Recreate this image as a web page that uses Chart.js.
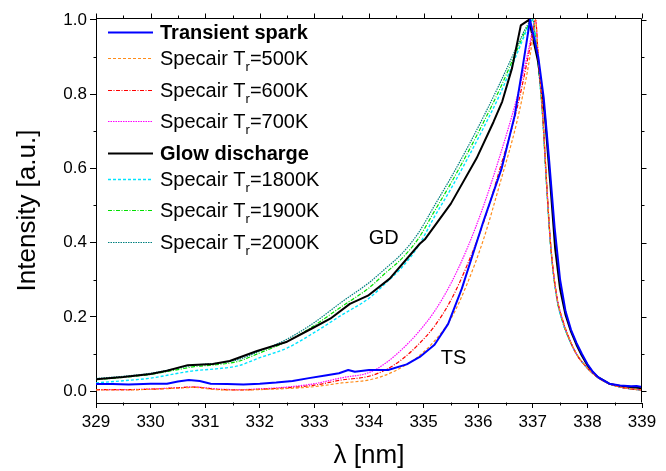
<!DOCTYPE html>
<html>
<head>
<meta charset="utf-8">
<script src="https://cdn.jsdelivr.net/npm/chart.js@4.4.1/dist/chart.umd.min.js"></script>
<style>
  html, body { margin: 0; padding: 0; background: #fff; }
  canvas { display: block; }
</style>
</head>
<body>
<canvas id="c" width="666" height="471"></canvas>
<script>
// Measured transient spark (TS) spectrum
const tsWl = [329.0, 329.3, 329.6, 330.0, 330.3, 330.5, 330.7, 330.9, 331.1, 331.4, 331.7, 332.0, 332.3, 332.6, 332.9, 333.2, 333.45, 333.62, 333.74, 334.0, 334.35, 334.69, 334.93, 335.2, 335.45, 335.7, 336.09, 336.43, 336.67, 336.82, 336.95, 337.1, 337.2, 337.3, 337.4, 337.5, 337.6, 337.7, 337.8, 337.9, 338.0, 338.1, 338.2, 338.4, 338.6, 338.8, 338.9, 339.0];
const tsInt = [0.019, 0.019, 0.018, 0.020, 0.020, 0.026, 0.030, 0.027, 0.020, 0.019, 0.018, 0.020, 0.023, 0.027, 0.035, 0.042, 0.048, 0.057, 0.052, 0.057, 0.057, 0.072, 0.092, 0.125, 0.181, 0.276, 0.455, 0.600, 0.743, 0.878, 1.000, 0.900, 0.790, 0.620, 0.440, 0.300, 0.215, 0.165, 0.130, 0.100, 0.073, 0.052, 0.037, 0.020, 0.015, 0.013, 0.014, 0.011];

// Measured glow discharge (GD) spectrum
const gdWl = [329.0, 329.5, 330.0, 330.3, 330.68, 331.14, 331.45, 331.95, 332.5, 332.97, 333.29, 333.65, 333.98, 334.38, 334.93, 335.03, 335.5, 335.97, 336.28, 336.44, 336.62, 336.78, 336.93, 337.1, 337.22, 337.32, 337.41, 337.5, 337.6, 337.7, 337.8, 337.9, 338.0, 338.1, 338.2, 338.4, 338.6, 338.8, 339.0];
const gdInt = [0.032, 0.038, 0.046, 0.055, 0.070, 0.073, 0.081, 0.108, 0.133, 0.170, 0.195, 0.235, 0.257, 0.303, 0.397, 0.410, 0.505, 0.627, 0.725, 0.780, 0.870, 0.985, 1.000, 0.885, 0.743, 0.560, 0.384, 0.275, 0.205, 0.160, 0.125, 0.095, 0.070, 0.050, 0.037, 0.020, 0.013, 0.011, 0.008];

// Specair simulations, common wavelength grid
const simWl = [329.0, 329.5, 330.0, 330.5, 330.8, 331.2, 331.6, 332.0, 332.5, 333.0, 333.5, 334.0, 334.3, 334.6, 334.9, 335.2, 335.5, 335.8, 336.1, 336.4, 336.7, 336.9, 337.0, 337.05, 337.1, 337.18, 337.25, 337.33, 337.44, 337.55, 337.65, 337.8, 338.0, 338.2, 338.4, 338.6, 338.8, 339.0];
const sim500 = [0.003, 0.003, 0.005, 0.008, 0.010, 0.004, 0.003, 0.004, 0.007, 0.012, 0.022, 0.030, 0.043, 0.064, 0.093, 0.135, 0.195, 0.290, 0.410, 0.560, 0.720, 0.860, 0.950, 1.000, 0.900, 0.750, 0.570, 0.390, 0.255, 0.190, 0.148, 0.100, 0.062, 0.036, 0.020, 0.011, 0.006, 0.003];
const sim600 = [0.004, 0.004, 0.005, 0.009, 0.011, 0.005, 0.003, 0.005, 0.009, 0.016, 0.030, 0.040, 0.057, 0.085, 0.125, 0.175, 0.245, 0.340, 0.455, 0.600, 0.755, 0.890, 0.965, 1.000, 0.900, 0.750, 0.570, 0.390, 0.255, 0.190, 0.148, 0.100, 0.062, 0.036, 0.020, 0.011, 0.006, 0.003];
const sim700 = [0.004, 0.004, 0.006, 0.009, 0.011, 0.006, 0.004, 0.006, 0.011, 0.020, 0.036, 0.050, 0.075, 0.112, 0.158, 0.215, 0.290, 0.385, 0.500, 0.635, 0.785, 0.905, 0.975, 1.000, 0.900, 0.750, 0.570, 0.390, 0.255, 0.190, 0.148, 0.100, 0.062, 0.036, 0.020, 0.011, 0.006, 0.003];
const sim1800 = [0.022, 0.028, 0.035, 0.048, 0.055, 0.060, 0.068, 0.090, 0.116, 0.158, 0.205, 0.250, 0.290, 0.333, 0.390, 0.470, 0.545, 0.625, 0.710, 0.800, 0.905, 0.975, 1.000, 0.950, 0.880, 0.740, 0.560, 0.385, 0.250, 0.185, 0.145, 0.100, 0.062, 0.036, 0.020, 0.011, 0.006, 0.003];
const sim1900 = [0.031, 0.037, 0.045, 0.058, 0.066, 0.071, 0.080, 0.103, 0.134, 0.177, 0.228, 0.278, 0.318, 0.357, 0.410, 0.485, 0.560, 0.640, 0.725, 0.815, 0.915, 0.980, 1.000, 0.950, 0.880, 0.740, 0.560, 0.385, 0.250, 0.185, 0.145, 0.100, 0.062, 0.036, 0.020, 0.011, 0.006, 0.003];
const sim2000 = [0.034, 0.040, 0.048, 0.062, 0.070, 0.075, 0.085, 0.108, 0.140, 0.185, 0.240, 0.292, 0.330, 0.370, 0.425, 0.500, 0.575, 0.655, 0.740, 0.830, 0.925, 0.985, 1.000, 0.950, 0.880, 0.740, 0.560, 0.385, 0.250, 0.185, 0.145, 0.100, 0.062, 0.036, 0.020, 0.011, 0.006, 0.003];

// Axis ticks
const xMajor = [329, 330, 331, 332, 333, 334, 335, 336, 337, 338, 339];
const xMinor = [329.5, 330.5, 331.5, 332.5, 333.5, 334.5, 335.5, 336.5, 337.5, 338.5];
const yMajor = [0.0, 0.2, 0.4, 0.6, 0.8, 1.0];
const yMinor = [0.1, 0.3, 0.5, 0.7, 0.9];

// Curve labels placed in the plot
const noteText = ['GD', 'TS'];
const noteWl = [334.27, 335.55];
const noteInt = [0.41, 0.089];

const FONT = "'Liberation Sans', Arial, Helvetica, sans-serif";

function pts(wl, val) { return wl.map((w, i) => ({ x: w, y: val[i] })); }

function measured(label, wl, val, color) {
  return { label, header: true, data: pts(wl, val), borderColor: color, borderWidth: 2,
           borderDash: [], pointRadius: 0, tension: 0, borderJoinStyle: 'round' };
}
function simulated(temp, val, color, dash, width) {
  return { label: 'Specair Tr=' + temp + 'K', temp, data: pts(simWl, val), borderColor: color,
           borderWidth: width, borderDash: dash, pointRadius: 0, cubicInterpolationMode: 'monotone' };
}

const datasets = [
  measured('Transient spark', tsWl, tsInt, '#0000ff'),
  simulated(500, sim500, '#ff8c1a', [3, 2], 1.2),
  simulated(600, sim600, '#ff0000', [4, 1.5, 1, 1.5], 1.2),
  simulated(700, sim700, '#ff00ff', [1.5, 1], 1.2),
  measured('Glow discharge', gdWl, gdInt, '#000000'),
  simulated(1800, sim1800, '#00e5ff', [3, 2], 1.4),
  simulated(1900, sim1900, '#00e000', [4, 1.5, 1, 1.5], 1.2),
  simulated(2000, sim2000, '#008080', [1.5, 1], 1.2)
];

// Mirrored frame and minor ticks
const framePlugin = {
  id: 'frame',
  afterDraw(chart) {
    const { ctx, chartArea: a, scales: { x, y } } = chart;
    ctx.save();
    ctx.strokeStyle = '#000';
    ctx.lineWidth = 1;
    const L = Math.round(a.left) + 0.5, R = Math.round(a.right) - 0.5;
    const T = Math.round(a.top) + 0.5, B = Math.round(a.bottom) - 0.5;
    ctx.beginPath();
    ctx.moveTo(L, T); ctx.lineTo(R, T); ctx.lineTo(R, B);
    const all = (maj, min) => maj.map(v => [v, 5]).concat(min.map(v => [v, 3]));
    all(xMajor, xMinor).forEach(([v, len]) => {
      const px = Math.round(x.getPixelForValue(v)) + 0.5;
      ctx.moveTo(px, T); ctx.lineTo(px, T - len);
    });
    xMinor.forEach(v => {
      const px = Math.round(x.getPixelForValue(v)) + 0.5;
      ctx.moveTo(px, B); ctx.lineTo(px, B + 3);
    });
    all(yMajor, yMinor).forEach(([v, len]) => {
      const py = Math.round(y.getPixelForValue(v)) + 0.5;
      ctx.moveTo(R, py); ctx.lineTo(R + len, py);
    });
    yMinor.forEach(v => {
      const py = Math.round(y.getPixelForValue(v)) + 0.5;
      ctx.moveTo(L, py); ctx.lineTo(L - 3, py);
    });
    ctx.stroke();

    // GD / TS labels
    ctx.fillStyle = '#000';
    ctx.font = '20px ' + FONT;
    ctx.textAlign = 'center';
    ctx.textBaseline = 'middle';
    noteText.forEach((t, i) => {
      ctx.fillText(t, x.getPixelForValue(noteWl[i]), y.getPixelForValue(noteInt[i]));
    });
    ctx.restore();
  }
};

// Legend with subscripted rotational temperature
const legendPlugin = {
  id: 'subLegend',
  afterDraw(chart) {
    const ctx = chart.ctx;
    ctx.save();
    let rowY = 32;
    chart.data.datasets.forEach(ds => {
      ctx.beginPath();
      ctx.strokeStyle = ds.borderColor;
      ctx.lineWidth = ds.borderWidth;
      ctx.setLineDash(ds.borderDash || []);
      ctx.moveTo(108, Math.round(rowY) + 0.5);
      ctx.lineTo(153, Math.round(rowY) + 0.5);
      ctx.stroke();
      ctx.setLineDash([]);
      ctx.fillStyle = '#000';
      ctx.textAlign = 'left';
      ctx.textBaseline = 'alphabetic';
      const tx = 160, base = rowY + 7;
      if (ds.header) {
        ctx.font = 'bold 20px ' + FONT;
        ctx.fillText(ds.label, tx, base);
        rowY += 26;
      } else {
        ctx.font = '20px ' + FONT;
        const main = 'Specair T';
        ctx.fillText(main, tx, base);
        const w1 = ctx.measureText(main).width;
        ctx.font = '13px ' + FONT;
        ctx.fillText('r', tx + w1, base + 6);
        const w2 = ctx.measureText('r').width;
        ctx.font = '20px ' + FONT;
        ctx.fillText('=' + ds.temp + 'K', tx + w1 + w2, base);
        rowY += 31.5;
      }
    });
    ctx.restore();
  }
};

new Chart(document.getElementById('c'), {
  type: 'line',
  data: { datasets },
  plugins: [framePlugin, legendPlugin],
  options: {
    responsive: false,
    animation: false,
    devicePixelRatio: 1,
    layout: { padding: { top: 18, right: 24, left: 0, bottom: 0 } },
    plugins: { legend: { display: false }, tooltip: { enabled: false } },
    scales: {
      x: {
        type: 'linear', position: 'bottom', min: 329, max: 339,
        afterBuildTicks: s => { s.ticks = xMajor.map(v => ({ value: v })); },
        afterFit: s => { s.height = 68; },
        ticks: { color: '#000', font: { family: FONT, size: 17 }, padding: 4, maxRotation: 0, autoSkip: false,
                 callback: v => String(v) },
        grid: { drawOnChartArea: false, drawTicks: true, tickLength: 5, color: '#000', lineWidth: 1 },
        border: { display: true, color: '#000', width: 1 },
        title: { display: true, text: 'λ [nm]', color: '#000', font: { family: FONT, size: 26 },
                 padding: { top: 0, bottom: 0 } }
      },
      y: {
        type: 'linear', position: 'left', min: -0.032, max: 1.005,
        afterBuildTicks: s => { s.ticks = yMajor.map(v => ({ value: v })); },
        afterFit: s => { s.width = 96; },
        ticks: { color: '#000', font: { family: FONT, size: 17 }, padding: 3, autoSkip: false,
                 callback: v => Number(v).toFixed(1) },
        grid: { drawOnChartArea: false, drawTicks: true, tickLength: 6, color: '#000', lineWidth: 1 },
        border: { display: true, color: '#000', width: 1 },
        title: { display: true, text: 'Intensity [a.u.]', color: '#000', font: { family: FONT, size: 26 },
                 padding: { top: 12, bottom: 0 } }
      }
    }
  }
});
</script>
</body>
</html>
